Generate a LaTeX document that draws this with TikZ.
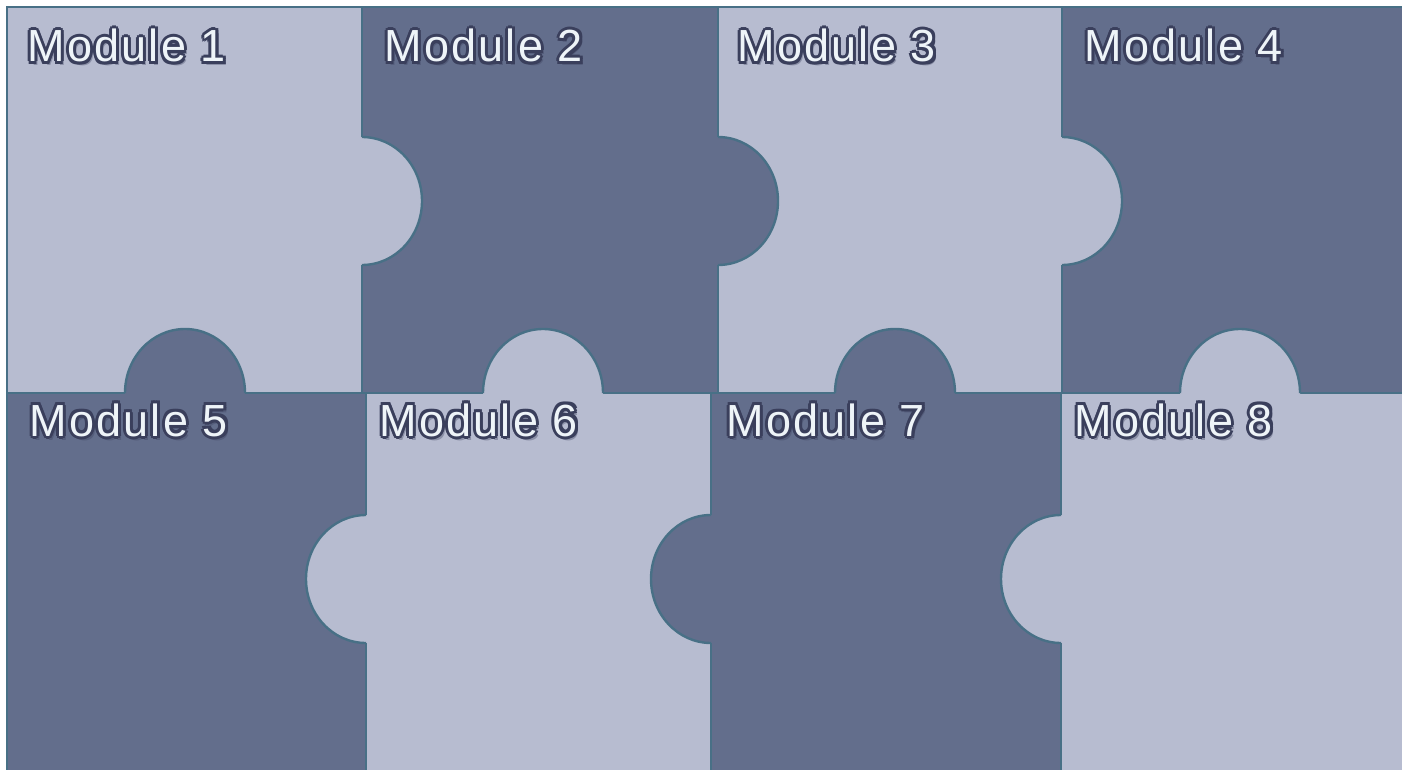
\documentclass[tikz,border=0pt]{standalone}
\usepackage{fontspec}
\usetikzlibrary{calc}
\newfontfamily\modfont[LetterSpace=5]{Liberation Sans}
\definecolor{pieceLight}{RGB}{183,188,208}
\definecolor{pieceDark}{RGB}{99,110,140}
\definecolor{pieceEdge}{RGB}{72,112,134}
\definecolor{labelFill}{RGB}{238,244,248}
\definecolor{labelLine}{RGB}{58,63,92}

\begin{document}
\begin{tikzpicture}[x=0.5pt,y=-0.5pt,
  pieceline/.style={draw=pieceEdge,line width=1.2pt},
  lbl/.style={anchor=base west,inner sep=0pt,font=\fontsize{22.5}{26}\modfont},
  lblback/.style={lbl,text=labelLine}]
  \useasboundingbox (0,0) rectangle (1402,770);
  % the eight pieces
  \foreach \col/\xa/\ya/\xb/\yb in {pieceLight/7/7/362/393, pieceDark/362/7/718/393,
      pieceLight/718/7/1062/393, pieceDark/1062/7/1406/393,
      pieceDark/7/393/366/774, pieceLight/366/393/711/774,
      pieceDark/711/393/1061/774, pieceLight/1061/393/1406/774}
    \fill[\col] (\xa,\ya) rectangle (\xb,\yb);
  \foreach \xa/\ya/\xb/\yb in {7/7/362/393, 362/7/718/393, 718/7/1062/393, 1062/7/1406/393,
      7/393/366/774, 366/393/711/774, 711/393/1061/774, 1061/393/1406/774}
    \draw[pieceline] (\xa,\ya) rectangle (\xb,\yb);
  % tabs: colour / centre / start angle
  \foreach \col/\x/\y/\s [count=\i] in {pieceLight/362/201/-90, pieceDark/718/201/-90,
      pieceLight/1062/201/-90, pieceDark/185/393/180, pieceLight/543/393/180,
      pieceDark/895/393/180, pieceLight/1240/393/180, pieceLight/366/579/90,
      pieceDark/711/579/90, pieceLight/1061/579/90}{
    \coordinate (tab\i) at (\x,\y);
    \fill[\col] (tab\i) ellipse[x radius=60,y radius=64];
    \draw[pieceline] (tab\i) ++(\s:60 and 64) arc[start angle=\s,delta angle=180,x radius=60,y radius=64];
  }
  % labels: shadow, outline copies, white text
  \foreach \n/\x/\y in {1/27/62, 2/384/62, 3/737/62, 4/1084/62,
      5/29/436, 6/379/436, 7/726/436, 8/1074/436}{
    \node[lblback,opacity=0.35] (shadow\n) at (\x+3,\y+4) {Module \n};
    \foreach \a in {0,45,...,315}
      \node[lblback] (outline\n-\a) at ($(\x,\y)+(\a:3)$) {Module \n};
    \node[lbl,text=labelFill] (module\n) at (\x,\y) {Module \n};
  }
\end{tikzpicture}
\end{document}
